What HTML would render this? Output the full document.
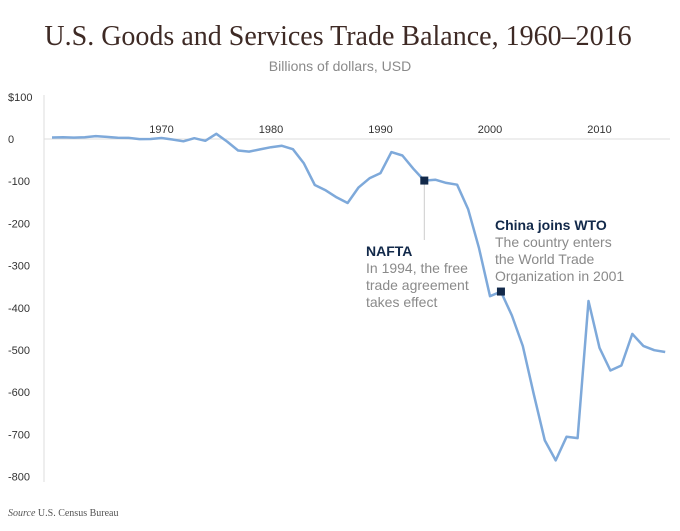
<!DOCTYPE html>
<html><head><meta charset="utf-8"><style>
body{margin:0;background:#fff;}
svg text{font-family:"Liberation Sans",sans-serif;}
</style></head><body>
<svg width="680" height="526" viewBox="0 0 680 526">
<text x="338" y="45" text-anchor="middle" style="font-family:'Liberation Serif',serif;font-size:28px;fill:#3e2a25">U.S. Goods and Services Trade Balance, 1960–2016</text>
<text x="340" y="71" text-anchor="middle" font-size="14" fill="#8a8a8a">Billions of dollars, USD</text>
<g id="yaxis"></g>
<g id="xaxis"></g>
<g id="plot"></g>
<g>
<text x="366" y="256" font-size="14" font-weight="600" fill="#12294a">NAFTA</text>
<text x="366" y="273" font-size="14" fill="#8a8a8a">In 1994, the free</text>
<text x="366" y="290" font-size="14" fill="#8a8a8a">trade agreement</text>
<text x="366" y="307" font-size="14" fill="#8a8a8a">takes effect</text>
</g>
<g>
<text x="495" y="230" font-size="14" font-weight="600" fill="#12294a">China joins WTO</text>
<text x="495" y="247" font-size="14" fill="#8a8a8a">The country enters</text>
<text x="495" y="264" font-size="14" fill="#8a8a8a">the World Trade</text>
<text x="495" y="281" font-size="14" fill="#8a8a8a">Organization in 2001</text>
</g>
<text x="8" y="516" font-size="10" fill="#555" style="font-family:'Liberation Serif',serif"><tspan font-style="italic">Source</tspan> U.S. Census Bureau</text>
</svg>
<script>
const years=[];for(let y=1960;y<=2016;y++)years.push(y);
const balance=[3.5,4.2,3.4,4.2,6.8,4.9,2.9,2.6,-0.3,0.1,2.3,-1.3,-5.4,1.9,-4.3,12.4,-6.1,-27.2,-29.8,-24.6,-19.4,-16.2,-24.2,-57.8,-109.1,-121.9,-138.5,-151.7,-114.6,-93.1,-80.9,-31.1,-39.2,-70.3,-98.5,-96.4,-104.1,-108.3,-166.1,-258.6,-372.5,-361.5,-418.2,-490.5,-604.9,-714.2,-761.7,-705.4,-708.7,-383.8,-494.7,-548.6,-536.8,-461.9,-490.3,-500.4,-504.8];
const yTicks=[100,0,-100,-200,-300,-400,-500,-600,-700,-800];
const yTickLabels=["$100","0","-100","-200","-300","-400","-500","-600","-700","-800"];
const xTicks=[1970,1980,1990,2000,2010];
const markerYears=[1994,2001];
const NS="http://www.w3.org/2000/svg";
const xs=y=>52+(y-1960)*10.95;
const ys=v=>139-v*0.422;
function mk(t,a,p){const e=document.createElementNS(NS,t);for(const k in a)e.setAttribute(k,a[k]);p.appendChild(e);return e;}
const ya=document.getElementById('yaxis'),xa=document.getElementById('xaxis'),pl=document.getElementById('plot');
yTicks.forEach((v,i)=>{const t=mk('text',{x:8,y:ys(v)+4,'font-size':11,fill:'#333'},ya);t.textContent=yTickLabels[i];

});
const g=mk('line',{x1:44,x2:670,y1:ys(0),y2:ys(0),stroke:'#ddd','stroke-width':1},pl);


const ax=mk('line',{x1:44,x2:44,y1:95,y2:482,stroke:'#ddd','stroke-width':1},ya);


xTicks.forEach(y=>{const t=mk('text',{x:xs(y),y:133,'font-size':11,fill:'#333','text-anchor':'middle'},xa);t.textContent=y;

});
const vl=mk('line',{x1:xs(1994),x2:xs(1994),y1:ys(-98.5),y2:240,stroke:'#ccc','stroke-width':1},pl);


const d=years.map((y,i)=>(i?'L':'M')+xs(y).toFixed(1)+','+ys(balance[i]).toFixed(1)).join('');
const p=mk('path',{d:d,fill:'none',stroke:'#7ea9da','stroke-width':2.5,'stroke-linejoin':'round'},pl);


markerYears.forEach(y=>{const v=balance[years.indexOf(y)];const r=mk('rect',{x:xs(y)-4,y:ys(v)-4,width:8,height:8,fill:'#12294a'},pl);

});
</script>
</body></html>
